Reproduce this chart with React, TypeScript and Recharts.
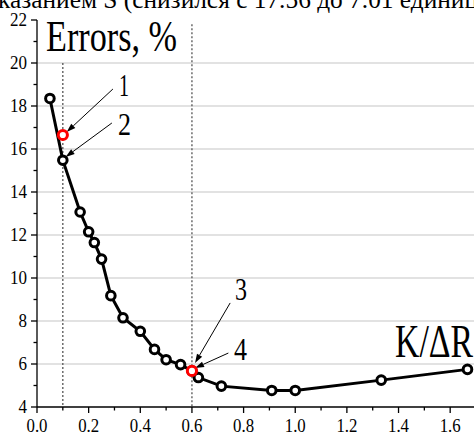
import React from 'react';
import { ComposedChart, Line, Scatter, XAxis, YAxis, CartesianGrid, ReferenceLine } from 'recharts';

const kValues = [0.05, 0.1, 0.167, 0.2, 0.222, 0.25, 0.286, 0.333, 0.4, 0.455, 0.5, 0.556, 0.6, 0.625, 0.714, 0.909, 1.0, 1.333, 1.667];
const errValues = [18.35, 15.48, 13.07, 12.15, 11.65, 10.88, 9.18, 8.15, 7.52, 6.68, 6.2, 5.97, 5.68, 5.37, 4.97, 4.77, 4.77, 5.25, 5.75];
const redK = [0.1, 0.6];
const redErr = [16.65, 5.68];
const yTicks = [4, 5, 6, 7, 8, 9, 10, 11, 12, 13, 14, 15, 16, 17, 18, 19, 20, 21, 22];
const xTicks = [0, 0.1, 0.2, 0.3, 0.4, 0.5, 0.6, 0.7, 0.8, 0.9, 1.0, 1.1, 1.2, 1.3, 1.4, 1.5, 1.6];
const gridValues = [6, 8, 10, 12, 14, 16, 18, 20];
const markerLines = [
  { x: 0.1, top: 20 },
  { x: 0.6, top: 21.8 },
];
const arrows = [
  { from: [0.294, 18.79], to: [0.115, 16.79] },
  { from: [0.29, 17.21], to: [0.111, 15.63] },
  { from: [0.748, 8.84], to: [0.612, 6.05] },
  { from: [0.741, 6.51], to: [0.612, 5.81] },
];

const data = kValues.map((k, i) => ({ k, err: errValues[i] }));
const redData = redK.map((k, i) => ({ k, err: redErr[i] }));

const FONT = 'Times New Roman';

const YTick = (props: any) => {
  const { x, y, payload } = props;
  const v = payload.value;
  const major = v % 2 === 0;
  const len = major ? 6 : 3.5;
  const label = String(v);
  return (
    <g>
      <line x1={x} x2={x - len} y1={y} y2={y} stroke="#000" strokeWidth={1.3} />
      {major ? (
        <text x={x - 10} y={y + 6} textAnchor="end" fontFamily={FONT} fontSize={18} fill="#000"
          textLength={label.length * 8.5} lengthAdjust="spacingAndGlyphs">
          {label}
        </text>
      ) : null}
    </g>
  );
};

const XTick = (props: any) => {
  const { x, y, payload } = props;
  const v = payload.value;
  const major = Math.round(v * 10) % 2 === 0;
  const len = major ? 6 : 3.5;
  return (
    <g>
      <line x1={x} x2={x} y1={y} y2={y + len} stroke="#000" strokeWidth={1.3} />
      {major ? (
        <text x={x} y={y + 25} textAnchor="middle" fontFamily={FONT} fontSize={18} fill="#000"
          textLength={21} lengthAdjust="spacingAndGlyphs">
          {v.toFixed(1)}
        </text>
      ) : null}
    </g>
  );
};

const ArrowShape = (props: any) => {
  const { x1, y1, x2, y2 } = props;
  const dx = x2 - x1;
  const dy = y2 - y1;
  const L = Math.sqrt(dx * dx + dy * dy) || 1;
  const ux = dx / L;
  const uy = dy / L;
  const hl = 9;
  const hw = 3;
  const bx = x2 - ux * hl;
  const by = y2 - uy * hl;
  const p = `${x2},${y2} ${bx - uy * hw},${by + ux * hw} ${bx + uy * hw},${by - ux * hw}`;
  return (
    <g>
      <line x1={x1} y1={y1} x2={bx} y2={by} stroke="#000" strokeWidth={1} />
      <polygon points={p} fill="#000" />
    </g>
  );
};

const RedDot = (props: any) => (
  <circle cx={props.cx} cy={props.cy} r={4.6} fill="#fff" stroke="#ff0000" strokeWidth={3} />
);

const T = (p: any) => (
  <text x={p.x} y={p.y} fontFamily={FONT} fontSize={p.size} fill="#000"
    textLength={p.w} lengthAdjust="spacingAndGlyphs">
    {p.children}
  </text>
);

export default function App() {
  return (
    <div style={{ position: 'fixed', left: 0, top: 0, width: 474, height: 434, overflow: 'hidden', background: '#fff' }}>
      <ComposedChart width={476} height={434} data={data} margin={{ top: 20, right: 0, bottom: 0, left: 0 }}>
        <CartesianGrid horizontal vertical={false} horizontalValues={gridValues} stroke="#d9d9d9" strokeWidth={1.5} />
        <XAxis
          dataKey="k"
          type="number"
          domain={[0, 1.7]}
          ticks={xTicks}
          interval={0}
          height={27}
          tickSize={0}
          tickMargin={0}
          tickLine={false}
          tick={<XTick />}
          axisLine={{ stroke: '#000', strokeWidth: 1.3 }}
          allowDataOverflow
        />
        <YAxis
          type="number"
          domain={[4, 22]}
          ticks={yTicks}
          interval={0}
          width={37}
          tickSize={0}
          tickMargin={0}
          tickLine={false}
          tick={<YTick />}
          axisLine={{ stroke: '#000', strokeWidth: 1.3 }}
          allowDataOverflow
        />
        {markerLines.map((m, i) => (
          <ReferenceLine
            key={'m' + i}
            segment={[{ x: m.x, y: m.top }, { x: m.x, y: 4 }]}
            stroke="#555"
            strokeWidth={1.3}
            strokeDasharray="2 2"
            ifOverflow="visible"
          />
        ))}
        <Line
          dataKey="err"
          stroke="#000"
          strokeWidth={3}
          dot={{ r: 4.3, stroke: '#000', strokeWidth: 3, fill: '#fff' }}
          isAnimationActive={false}
        />
        <Scatter data={redData} dataKey="err" shape={<RedDot />} isAnimationActive={false} />
        {arrows.map((a, i) => (
          <ReferenceLine
            key={'a' + i}
            segment={[{ x: a.from[0], y: a.from[1] }, { x: a.to[0], y: a.to[1] }]}
            shape={<ArrowShape />}
            ifOverflow="visible"
          />
        ))}
      </ComposedChart>
      <svg width={474} height={434} style={{ position: 'absolute', left: 0, top: 0, pointerEvents: 'none' }}>
        <T x={-2} y={8} size={25} w={480}>казанием S (снизился с 17.56 до 7.01 единиц</T>
        <T x={46} y={51} size={44} w={131}>Errors, %</T>
        <T x={119} y={96} size={31} w={10}>1</T>
        <T x={118} y={135} size={31} w={13}>2</T>
        <T x={235} y={300} size={31} w={12}>3</T>
        <T x={234} y={360} size={31} w={13}>4</T>
        <T x={395} y={357} size={46} w={78}>K/ΔR</T>
      </svg>
    </div>
  );
}
